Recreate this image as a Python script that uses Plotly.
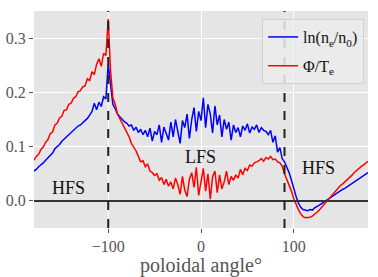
import numpy as np
import plotly.graph_objects as go

angle_deg = list(np.linspace(-180, 180, 145))

ln_ne_n0 = [
    0.055, 0.058, 0.063, 0.066, 0.070, 0.075, 0.080, 0.084,
    0.088, 0.096, 0.100, 0.104, 0.110, 0.114, 0.119, 0.122,
    0.127, 0.131, 0.134, 0.138, 0.140, 0.144, 0.147, 0.152,
    0.158, 0.165, 0.180, 0.168, 0.182, 0.174, 0.192, 0.188,
    0.252, 0.215, 0.178, 0.170, 0.160, 0.155, 0.150, 0.146,
    0.143, 0.138, 0.140, 0.130, 0.136, 0.126, 0.132, 0.122,
    0.130, 0.118, 0.134, 0.110, 0.128, 0.122, 0.140, 0.108,
    0.136, 0.125, 0.112, 0.145, 0.118, 0.150, 0.128, 0.106,
    0.148, 0.135, 0.160, 0.115, 0.150, 0.172, 0.128, 0.165,
    0.148, 0.190, 0.135, 0.178, 0.160, 0.125, 0.175, 0.140,
    0.158, 0.118, 0.150, 0.132, 0.145, 0.112, 0.140, 0.126,
    0.135, 0.118, 0.138, 0.130, 0.142, 0.125, 0.136, 0.132,
    0.140, 0.126, 0.135, 0.130, 0.128, 0.122, 0.130, 0.108,
    0.120, 0.090, 0.098, 0.078, 0.072, 0.062, 0.052, 0.038,
    0.022, 0.008, -0.004, -0.012, -0.016, -0.017, -0.018, -0.016,
    -0.017, -0.013, -0.011, -0.008, -0.005, -0.002, 0.001, 0.004,
    0.007, 0.010, 0.013, 0.015, 0.018, 0.021, 0.023, 0.026,
    0.029, 0.032, 0.034, 0.037, 0.040, 0.043, 0.046, 0.049,
    0.052,
]

phi_te = [
    0.075, 0.082, 0.086, 0.095, 0.099, 0.108, 0.113, 0.124,
    0.127, 0.140, 0.143, 0.153, 0.156, 0.167, 0.168, 0.178,
    0.180, 0.189, 0.192, 0.201, 0.203, 0.210, 0.212, 0.225,
    0.222, 0.238, 0.233, 0.252, 0.262, 0.248, 0.272, 0.268,
    0.335, 0.240, 0.190, 0.178, 0.160, 0.152, 0.142, 0.134,
    0.126, 0.118, 0.106, 0.100, 0.092, 0.082, 0.072, 0.074,
    0.063, 0.068, 0.055, 0.052, 0.047, 0.050, 0.038, 0.043,
    0.030, 0.040, 0.027, 0.035, 0.022, 0.042, 0.030, 0.012,
    0.045, 0.020, 0.008, 0.040, 0.052, 0.025, 0.062, 0.010,
    0.035, 0.060, 0.018, 0.050, 0.003, 0.045, 0.055, 0.015,
    0.048, 0.022, 0.035, 0.055, 0.030, 0.045, 0.038, 0.048,
    0.042, 0.058, 0.048, 0.060, 0.056, 0.066, 0.064, 0.070,
    0.072, 0.074, 0.078, 0.073, 0.080, 0.077, 0.082, 0.076,
    0.077, 0.072, 0.070, 0.064, 0.050, 0.040, 0.030, 0.018,
    0.004, -0.008, -0.016, -0.024, -0.029, -0.031, -0.031, -0.030,
    -0.028, -0.025, -0.021, -0.017, -0.012, -0.007, -0.003, 0.002,
    0.008, 0.013, 0.019, 0.024, 0.028, 0.031, 0.035, 0.038,
    0.043, 0.047, 0.052, 0.056, 0.060, 0.063, 0.066, 0.070,
    0.073,
]

x_tick_vals = [-100, 0, 100]
x_tick_text = ["\u2212100", "0", "100"]
y_tick_vals = [0.0, 0.1, 0.2, 0.3]
y_tick_text = ["0.0", "0.1", "0.2", "0.3"]
separatrix_angles = [-100, 90]
region_labels = ["HFS", "LFS", "HFS"]
region_x = [-143, -1, 127]
region_y = [0.024, 0.081, 0.061]

FONT = "Liberation Serif"

fig = go.Figure()
fig.add_trace(go.Scatter(
    x=angle_deg, y=ln_ne_n0, mode="lines",
    line=dict(color="#0000FF", width=1.5),
    name="ln(n<sub>e</sub>/n<sub>0</sub>)", legendgroup="a",
))
fig.add_trace(go.Scatter(
    x=angle_deg, y=phi_te, mode="lines",
    line=dict(color="#FF0000", width=1.5),
    name="\u03a6/T<sub>e</sub>", legendgroup="b",
))

fig.add_hline(y=0, line=dict(color="#333333", width=2))
for a in separatrix_angles:
    fig.add_vline(x=a, line=dict(color="#222222", width=2, dash="dash"))

for t, xx, yy in zip(region_labels, region_x, region_y):
    fig.add_annotation(x=xx, y=yy, text=t, showarrow=False,
                       font=dict(family=FONT, size=18, color="#111111"))

fig.update_layout(
    width=378, height=277,
    margin=dict(l=34, r=10, t=11, b=49, autoexpand=False),
    paper_bgcolor="white",
    plot_bgcolor="#E5E5E5",
    font=dict(family=FONT, color="#555555"),
    showlegend=True,
    legend=dict(
        x=0.683, y=0.963, xanchor="left", yanchor="top",
        bgcolor="rgba(236,236,236,0.85)",
        bordercolor="#D0D0D0", borderwidth=1,
        font=dict(family=FONT, size=16, color="#111111"),
        itemwidth=30, tracegroupgap=5,
    ),
    xaxis=dict(
        range=[-180, 180], tickvals=x_tick_vals, ticktext=x_tick_text,
        showgrid=True, gridcolor="white", gridwidth=1,
        zeroline=False, ticks="outside", ticklen=4, tickcolor="#555555",
        tickfont=dict(family=FONT, size=16, color="#555555"),
        title=dict(text="poloidal angle\u00b0", standoff=2,
                   font=dict(family=FONT, size=20, color="#555555")),
        showline=False, automargin=False,
    ),
    yaxis=dict(
        range=[-0.05, 0.35], tickvals=y_tick_vals, ticktext=y_tick_text,
        showgrid=True, gridcolor="white", gridwidth=1,
        zeroline=False, ticks="outside", ticklen=4, tickcolor="#555555",
        tickfont=dict(family=FONT, size=16, color="#555555"),
        showline=False, automargin=False,
    ),
)

fig.write_html(
    "out.html",
    config={"displayModeBar": False},
    post_script="document.body.style.margin='0';document.body.style.padding='0';",
)
